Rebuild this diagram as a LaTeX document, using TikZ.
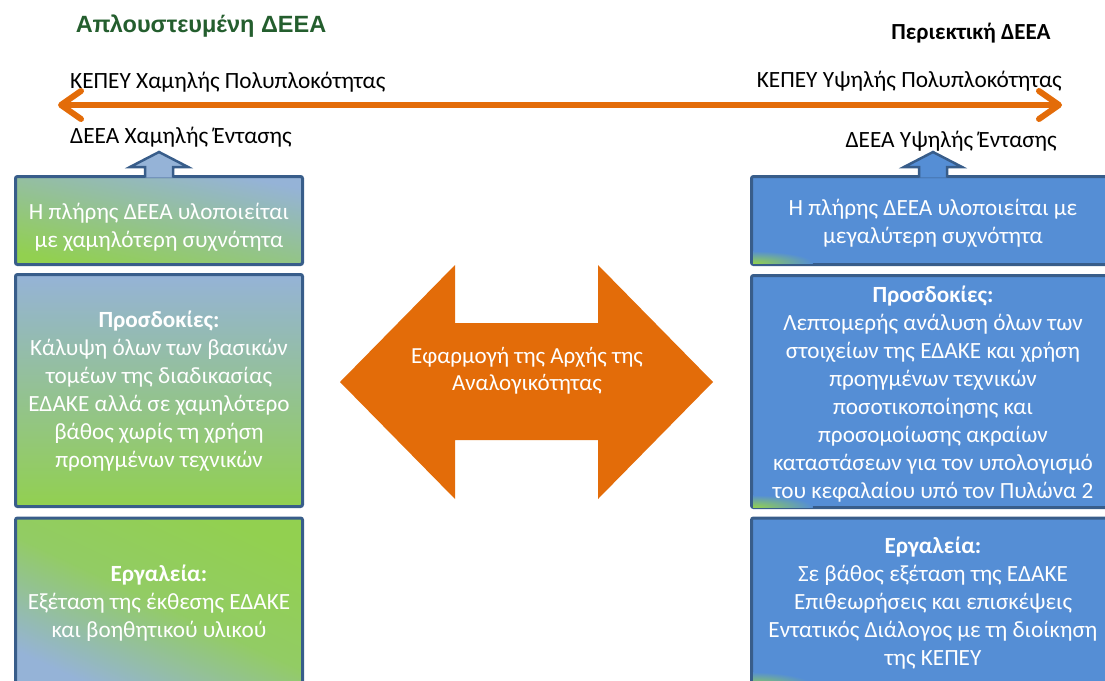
\documentclass[tikz,border=0pt]{standalone}
\usepackage{fontspec}
\setmainfont{Carlito}
\newfontfamily\arialf{Liberation Sans}
\usetikzlibrary{arrows.meta}
\definecolor{bordB}{HTML}{385D8A}
\definecolor{lblue}{HTML}{95B3D7}
\definecolor{lgreen}{HTML}{92D050}
\definecolor{rblue}{HTML}{558ED5}
\definecolor{orng}{HTML}{E36C09}
\definecolor{tgreen}{HTML}{245E2E}
\begin{document}
\begin{tikzpicture}[x=1pt,y=-1pt,
  boxshape/.style={draw=bordB, line width=3pt, rounded corners=2pt, inner sep=0pt, outer sep=0pt},
  leftbox/.style={boxshape, minimum width=287pt},
  rightbox/.style={boxshape, fill=rblue, minimum width=363pt},
  boxtext/.style={text=white, align=center, font=\fontsize{23.2}{28}\selectfont, inner sep=0pt},
  lbl/.style={font=\fontsize{23.3}{27}\selectfont, inner sep=0pt},
  uparrow/.style={draw=bordB, line width=2.5pt, line join=miter},
  orangeline/.style={draw=orng, line width=6pt, {Straight Barb[length=20pt,width=28pt,round]}-{Straight Barb[length=20pt,width=28pt,round]}}
]
\useasboundingbox (0,0) rectangle (1105,680);
\clip (0,0) rectangle (1105,680);

% titles
\node[font=\arialf\bfseries\fontsize{23.5}{27}\selectfont, text=tgreen, anchor=base, inner sep=0pt] (tleft) at (201,32) {Απλουστευμένη ΔΕΕΑ};
\node[font=\bfseries\fontsize{23}{27}\selectfont, anchor=base, inner sep=0pt] (tright) at (971,39) {Περιεκτική ΔΕΕΑ};

% labels
\node[lbl, anchor=base west] (l1) at (70,88) {ΚΕΠΕΥ Χαμηλής Πολυπλοκότητας};
\node[lbl, anchor=base west] (l2) at (70,143) {ΔΕΕΑ Χαμηλής Έντασης};
\node[lbl, anchor=base east] (r1) at (1062,87) {ΚΕΠΕΥ Υψηλής Πολυπλοκότητας};
\node[lbl, anchor=base east] (r2) at (1057,147) {ΔΕΕΑ Υψηλής Έντασης};

% orange double arrow
\coordinate (lend) at (58,105);
\coordinate (rend) at (1062,105);
\draw[orangeline] (lend) -- (rend);

% left boxes
\node[leftbox, minimum height=88pt, top color=lblue, bottom color=lgreen, shading angle=-12] (lb1) at (159,220.5) {};
\node[leftbox, minimum height=232pt, top color=lblue, bottom color=lgreen, shading angle=0] (lb2) at (159,390.5) {};
\node[leftbox, minimum height=170pt, top color=lgreen, bottom color=lblue, middle color=lgreen!85!lblue, shading angle=-25] (lb3) at (159,603) {};

% right boxes
\node[rightbox, minimum height=88pt] (rb1) at (933,220.5) {};
\node[rightbox, minimum height=232pt] (rb2) at (933,391.5) {};
\node[rightbox, minimum height=170pt] (rb3) at (933,603) {};

% green corners on right boxes
\begin{scope}
\clip (753,178) rectangle (1105,263);
\shade[inner color=lgreen, outer color=rblue] (753,263) ellipse [x radius=60pt, y radius=12pt];
\end{scope}
\begin{scope}
\clip (753,279) rectangle (1105,507);
\shade[inner color=lgreen, outer color=rblue] (753,507) ellipse [x radius=60pt, y radius=12pt];
\end{scope}
\begin{scope}
\clip (753,520) rectangle (1105,686);
\shade[inner color=lgreen, outer color=rblue] (753,686) ellipse [x radius=60pt, y radius=14pt];
\end{scope}

% up arrows
\filldraw[uparrow, fill=lblue] (145,177.5) -- (145,167) -- (130,167) -- (159,152) -- (188,167) -- (173,167) -- (173,177.5);
\filldraw[uparrow, fill=rblue] (919,177.5) -- (919,167) -- (904,167) -- (933,152) -- (962,167) -- (947,167) -- (947,177.5);

% central double arrow
\fill[orng] (340,382) -- (455,265) -- (455,323) -- (598,323) -- (598,265) -- (713,382) -- (598,499) -- (598,440) -- (455,440) -- (455,499) -- cycle;
\node[text=white, align=center, font=\fontsize{23}{27}\selectfont, inner sep=0pt] (ctext) at (527,371) {Εφαρμογή της Αρχής της\\Αναλογικότητας};

% box texts
\node[boxtext] (lt1) at (159,227.5) {Η πλήρης ΔΕΕΑ υλοποιείται\\με χαμηλότερη συχνότητα};
\node[boxtext] (lt2) at (159,391) {\textbf{Προσδοκίες:}\\Κάλυψη όλων των βασικών\\τομέων της διαδικασίας\\ΕΔΑΚΕ αλλά σε χαμηλότερο\\βάθος χωρίς τη χρήση\\προηγμένων τεχνικών};
\node[boxtext] (lt3) at (159,603.5) {\textbf{Εργαλεία:}\\Εξέταση της έκθεσης ΕΔΑΚΕ\\και βοηθητικού υλικού};
\node[boxtext] (rt1) at (933,223) {Η πλήρης ΔΕΕΑ υλοποιείται με\\μεγαλύτερη συχνότητα};
\node[boxtext] (rt2) at (933,394.5) {\textbf{Προσδοκίες:}\\Λεπτομερής ανάλυση όλων των\\στοιχείων της ΕΔΑΚΕ και χρήση\\προηγμένων τεχνικών\\ποσοτικοποίησης και\\προσομοίωσης ακραίων\\καταστάσεων για τον υπολογισμό\\του κεφαλαίου υπό τον Πυλώνα 2};
\node[boxtext] (rt3) at (933,603.5) {\textbf{Εργαλεία:}\\Σε βάθος εξέταση της ΕΔΑΚΕ\\Επιθεωρήσεις και επισκέψεις\\Εντατικός Διάλογος με τη διοίκηση\\της ΚΕΠΕΥ};
\end{tikzpicture}
\end{document}
